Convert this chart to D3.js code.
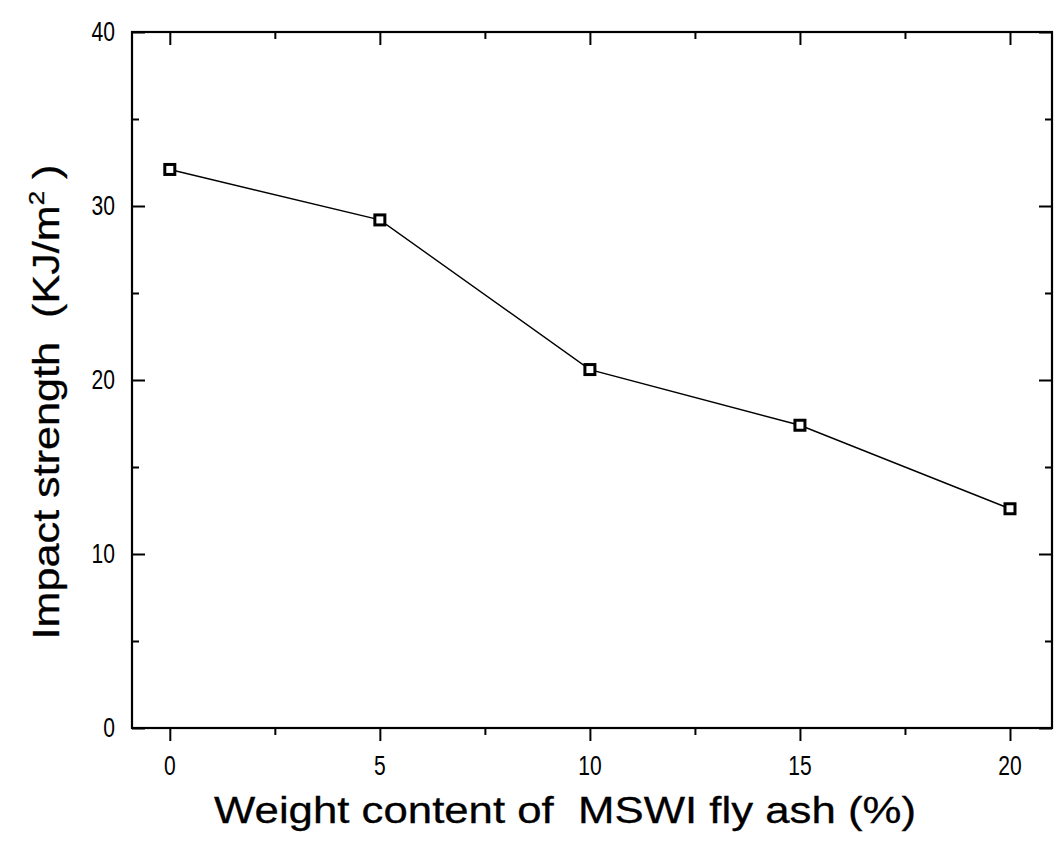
<!DOCTYPE html>
<html>
<head>
<meta charset="utf-8">
<script src="https://cdn.jsdelivr.net/npm/d3@7"></script>
<style>
  body { margin: 0; background: #fff; }
  svg { display: block; }
  .tick-label { font-family: "Liberation Sans", Arial, sans-serif; font-size: 27px; fill: #000; }
  .axis-title { font-family: "Liberation Sans", Arial, sans-serif; font-size: 37px; fill: #000; stroke: #000; stroke-width: 0.3px; }
</style>
</head>
<body>
<div id="chart"></div>
<script>
// data
const ashContent = [0, 5, 10, 15, 20];
const impactStrength = [32.1, 29.2, 20.6, 17.4, 12.6];
const xMajorTicks = [0, 5, 10, 15, 20];
const xMinorTicks = [2.5, 7.5, 12.5, 17.5];
const yMajorTicks = [0, 10, 20, 30, 40];
const yMinorTicks = [5, 15, 25, 35];

const width = 1063, height = 842;
const plot = { left: 132, right: 1052, top: 32, bottom: 728 };

const svg = d3.select("#chart").append("svg")
  .attr("width", width).attr("height", height);

const x = d3.scaleLinear().domain([-0.9, 21]).range([plot.left, plot.right]);
const y = d3.scaleLinear().domain([0, 40]).range([plot.bottom, plot.top]);

// frame
svg.append("rect")
  .attr("x", plot.left).attr("y", plot.top)
  .attr("width", plot.right - plot.left).attr("height", plot.bottom - plot.top)
  .attr("fill", "none").attr("stroke", "#000").attr("stroke-width", 2.2);

const ticks = svg.append("g");

// bottom ticks point outward, the other three sides inward
[
  [d3.axisBottom(x).tickValues(xMajorTicks).tickSize(13), `translate(0,${plot.bottom})`],
  [d3.axisBottom(x).tickValues(xMinorTicks).tickSize(7), `translate(0,${plot.bottom})`],
  [d3.axisBottom(x).tickValues(xMajorTicks).tickSize(13), `translate(0,${plot.top})`],
  [d3.axisBottom(x).tickValues(xMinorTicks).tickSize(7), `translate(0,${plot.top})`],
  [d3.axisRight(y).tickValues(yMajorTicks).tickSize(13), `translate(${plot.left},0)`],
  [d3.axisRight(y).tickValues(yMinorTicks).tickSize(7), `translate(${plot.left},0)`],
  [d3.axisLeft(y).tickValues(yMajorTicks).tickSize(13), `translate(${plot.right},0)`],
  [d3.axisLeft(y).tickValues(yMinorTicks).tickSize(7), `translate(${plot.right},0)`],
].forEach(([axis, tr]) => {
  ticks.append("g").attr("transform", tr).call(axis.tickFormat(""))
    .call((g) => g.select(".domain").remove())
    .call((g) => g.selectAll("line").attr("stroke", "#000").attr("stroke-width", 2));
});

// tick labels (narrowed, the original uses a condensed face)
svg.append("g").selectAll("text")
  .data(xMajorTicks)
  .join("text")
  .attr("class", "tick-label")
  .attr("transform", (d) => `translate(${x(d)},${plot.bottom + 47}) scale(0.78,1)`)
  .attr("text-anchor", "middle")
  .text((d) => d);

svg.append("g").selectAll("text")
  .data(yMajorTicks)
  .join("text")
  .attr("class", "tick-label")
  .attr("transform", (d) => `translate(${plot.left - 17},${y(d) + 9}) scale(0.78,1)`)
  .attr("text-anchor", "end")
  .text((d) => d);

// series
const pts = ashContent.map((v, i) => [v, impactStrength[i]]);

svg.append("path")
  .datum(pts)
  .attr("fill", "none")
  .attr("stroke", "#000")
  .attr("stroke-width", 1.4)
  .attr("d", d3.line().x((d) => x(d[0])).y((d) => y(d[1])));

svg.append("g").selectAll("rect")
  .data(pts)
  .join("rect")
  .attr("x", (d) => x(d[0]) - 5)
  .attr("y", (d) => y(d[1]) - 5)
  .attr("width", 10).attr("height", 10)
  .attr("fill", "#fff")
  .attr("stroke", "#000")
  .attr("stroke-width", 3);

// axis titles, stretched to the length they have in the original
function stretchTo(sel, target) {
  const w = sel.node().getBBox().width;
  sel.attr("transform", `${sel.attr("transform") || ""} scale(${target / w},1)`);
}

const xTitle = svg.append("text")
  .attr("class", "axis-title")
  .attr("transform", "translate(565,823)")
  .attr("text-anchor", "middle")
  .attr("xml:space", "preserve")
  .text("Weight content of  MSWI fly ash (%)");
stretchTo(xTitle, 702);

const yTitle = svg.append("text")
  .attr("class", "axis-title")
  .attr("transform", "translate(59,402) rotate(-90)")
  .attr("text-anchor", "middle")
  .attr("xml:space", "preserve");
yTitle.append("tspan").text("Impact strength  (KJ/m");
yTitle.append("tspan").attr("dy", -15).style("font-size", "22px").text("2");
yTitle.append("tspan").attr("dy", 15).text(" )");
stretchTo(yTitle, 475);
</script>
</body>
</html>
